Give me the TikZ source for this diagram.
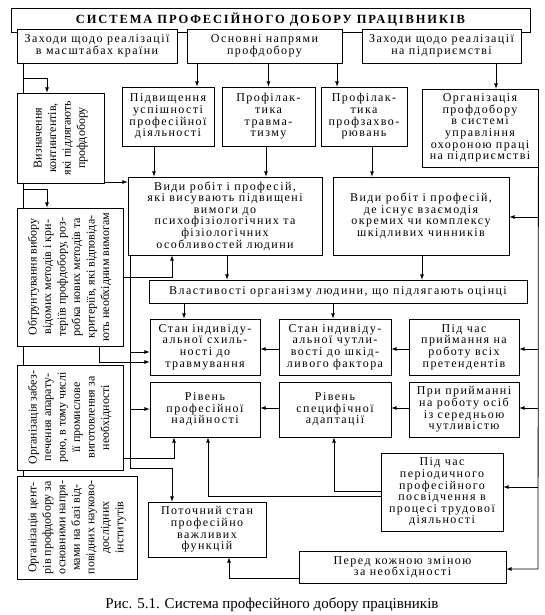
\documentclass[tikz,border=0pt]{standalone}
\usepackage{fontspec}
\usepackage{graphicx}
\setmainfont{Liberation Serif}
\newfontfamily\spaced[LetterSpace=12]{Liberation Serif}
\newfontfamily\titlefont[LetterSpace=15]{Liberation Serif}
\newcommand\rottext[1]{\rotatebox{90}{\rmfamily\fontsize{12}{14.5}\selectfont
  \begin{tabular}{@{}c@{}}#1\end{tabular}}}

\begin{document}
\begin{tikzpicture}[x=1pt, y=-1pt, line width=0.8pt,
    box/.style={draw, fill=white, align=center, inner sep=0pt,
      font=\spaced\fontsize{12}{11.6}\selectfont}]
    \useasboundingbox (0,0) rectangle (545,615);

    \node[box, minimum width=519, minimum height=24,
      font=\titlefont\bfseries\fontsize{12.5}{13}\selectfont]
    (Sys) at (270.5,20) {СИСТЕМА ПРОФЕСІЙНОГО ДОБОРУ ПРАЦІВНИКІВ};

    \node[box, minimum width=160, minimum height=34]
    (ZK) at (97,46) {Заходи щодо реалізації\\в масштабах країни};
    \node[box, minimum width=155, minimum height=34]
    (ON) at (264.5,46) {Основні напрями\\профдобору};
    \node[box, minimum width=159, minimum height=34]
    (ZP) at (441.5,46) {Заходи щодо реалізації\\на підприємстві};

    \node[box, minimum width=92, minimum height=59]
    (PU) at (168,116.5) {Підвищення\\успішності\\професійної\\діяльності};
    \node[box, minimum width=93, minimum height=59]
    (PT) at (268.5,116.5) {Профілак-\\тика\\травма-\\тизму};
    \node[box, minimum width=86, minimum height=59]
    (PZ) at (364,116.5) {Профілак-\\тика\\профзахво-\\рювань};
    \node[box, minimum width=116, minimum height=78]
    (OP) at (480,128) {Організація\\профдобору\\в системі\\управління\\охороною праці\\на підприємстві};

    \node[box, minimum width=194, minimum height=78]
    (VP) at (225,216) {Види робіт і професій,\\які висувають підвищені\\вимоги до\\психофізіологічних та\\фізіологічних\\особливостей людини};
    \node[box, minimum width=176, minimum height=78]
    (VS) at (421,216) {Види робіт і професій,\\де існує взаємодія\\окремих чи комплексу\\шкідливих чинників};
    \node[box, minimum width=378, minimum height=23]
    (VO) at (338,291.5) {Властивості організму людини, що підлягають оцінці};

    \node[box, minimum width=110, minimum height=56]
    (SS) at (205,347) {Стан індивіду-\\альної схиль-\\ності до\\травмування};
    \node[box, minimum width=112, minimum height=56]
    (SC) at (335,347) {Стан індивіду-\\альної чутли-\\вості до шкід-\\ливого фактора};
    \node[box, minimum width=110, minimum height=56]
    (PV) at (464,347) {Під час\\приймання на\\роботу всіх\\претендентів};

    \node[box, minimum width=110, minimum height=55]
    (RN) at (205,409.5) {Рівень\\професійної\\надійності};
    \node[box, minimum width=112, minimum height=55]
    (RA) at (335,409.5) {Рівень\\специфічної\\адаптації};
    \node[box, minimum width=110, minimum height=55]
    (PC) at (464,409.5) {При прийманні\\на роботу осіб\\із середньою\\чутливістю};

    \node[box, minimum width=122, minimum height=78]
    (PO) at (442,492) {Під час\\періодичного\\професійного\\посвідчення в\\процесі трудової\\діяльності};
    \node[box, minimum width=118, minimum height=55]
    (PF) at (207,529.5) {Поточний стан\\професійно\\важливих\\функцій};
    \node[box, minimum width=207, minimum height=32]
    (PK) at (402.5,567) {Перед кожною зміною\\за необхідності};

    % left column, text turned upwards
    \node[box, minimum width=87, minimum height=90]
    (VK) at (60.5,138) {\rottext{Визначення\\контингентів,\\які підлягають\\профдобору}};
    \node[box, minimum width=106, minimum height=138]
    (OB) at (70,277) {\rottext{Обгрунтування вибору\\відомих методів і кри-\\теріїв профдобору, роз-\\робка нових методів та\\критеріїв, які відповіда-\\ють необхідним вимогам}};
    \node[box, minimum width=106, minimum height=105]
    (OA) at (70,417.5) {\rottext{Організація забез-\\печення апарату-\\рою, в тому числі\\її промислове\\виготовлення за\\необхідності}};
    \node[box, minimum width=120, minimum height=103]
    (OC) at (77,527.5) {\rottext{Організація цент-\\рів профдобору за\\основними напря-\\мами на базі від-\\повідних науково-\\дослідних\\інститутів}};

    \node[font=\fontsize{15}{17}\selectfont]
    (Cap) at (272,605) {Рис. 5.1. Система професійного добору працівників};

    % top rows
    \draw[-latex] (ON.south -| 197,0) -- (PU.north -| 197,0);
    \draw[-latex] (ON.south -| PT.north) -- (PT.north);
    \draw[-latex] (ON.south -| 337,0) -- (PZ.north -| 337,0);
    \draw[-latex] (ZP.south -| 496,0) -- (OP.north -| 496,0);
    \draw[-latex] (PU.south -| 154,0) -- (VP.north -| 154,0);
    \draw[-latex] (PT.south -| 266,0) -- (VP.north -| 266,0);
    \draw[-latex] (PZ.south -| 372,0) -- (VS.north -| 372,0);
    \draw[-latex] (VP.south -| 227,0) -- (VO.north -| 227,0);
    \draw[-latex] (VS.south -| 422,0) -- (VO.north -| 422,0);
    \draw[-latex] (VO.south -| 184,0) -- (SS.north -| 184,0);
    \draw[-latex] (VO.south -| 333,0) -- (SC.north -| 333,0);

    % left spine
    \draw (ZK.south -| 23,0) -- (VK.north -| 23,0);
    \draw (VK.south -| 23,0) -- (OB.north -| 23,0);
    \draw (OB.south -| 23,0) -- (OA.north -| 23,0);
    \draw (OA.south -| 23,0) -- (OC.north -| 23,0);
    \draw[-latex] (23,78) -| (VK.north -| 47,0);
    \draw[-latex] (23,189) -| (OB.north -| 47,0);
    \draw[-latex] (VK.east |- 0,182) -- (VP.west |- 0,182);
    \draw[-latex] (OB.east |- 0,277) -| (VP.south -| 172,0);
    \draw[-latex] (OB.south -| 99,0) |- (SS.west |- 0,362);
    \draw[-latex] (OA.east |- 0,458) -| (RN.south -| 174,0);
    \draw[-latex] (VP.south -| 130,0) -- (130,468) -| (PF.north -| 172,0);
    \draw[-latex] (130,352) -- (SS.west |- 0,352);
    \draw[-latex] (130,409) -- (RN.west |- 0,409);

    % right spine
    \draw[-latex] (OP.south east) -- (538,569) -- (PK.east |- 0,569);
    \draw[-latex] (538,217) -- (VS.east |- 0,217);
    \draw[-latex] (538,349) -- (PV.east |- 0,349);
    \draw[-latex] (538,408) -- (PC.east |- 0,408);
    \draw[-latex] (538,487) -- (PO.east |- 0,487);
    \draw[-latex] (PV.west |- 0,349) -- (SC.east |- 0,349);
    \draw[-latex] (SC.west |- 0,349) -- (SS.east |- 0,349);
    \draw[-latex] (PC.west |- 0,408) -- (RA.east |- 0,408);
    \draw[-latex] (RA.west |- 0,408) -- (RN.east |- 0,408);
    \draw[-latex] (PO.west |- 0,491) -| (RA.south -| 334,0);
    \draw[-latex] (PO.west |- 0,496) -| (RN.south -| 208,0);
    \draw[-latex] (PK.west |- 0,578) -| (PF.south -| 229,0);
  \end{tikzpicture}
\end{document}
